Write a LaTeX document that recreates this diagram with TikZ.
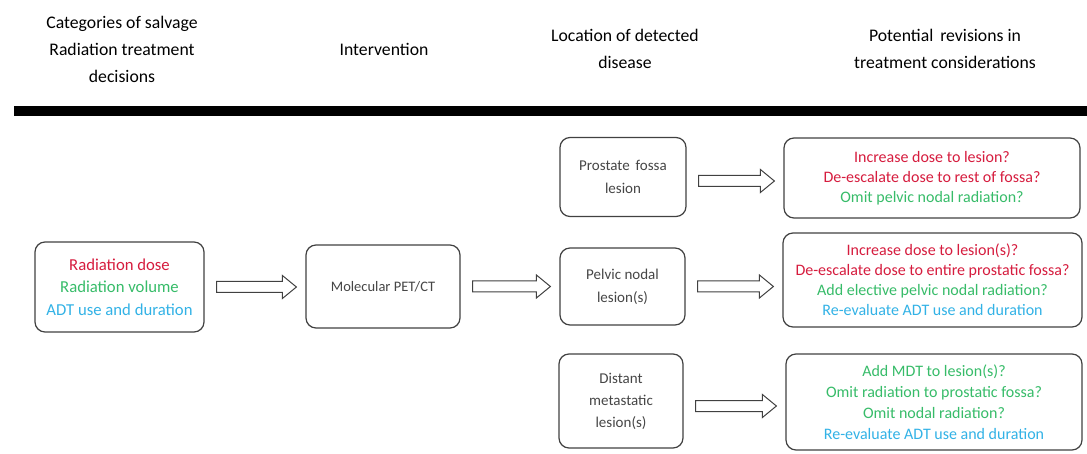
\documentclass[tikz,border=0pt]{standalone}
\usepackage{fontspec}
\setmainfont{Carlito}
\usetikzlibrary{calc}
\definecolor{tred}{RGB}{214,28,62}
\definecolor{tgreen}{RGB}{55,188,105}
\definecolor{tcyan}{RGB}{50,178,230}
\definecolor{tgray}{RGB}{70,70,70}
\definecolor{edgegray}{RGB}{65,65,65}
% #1: downward shift of the arrow, #2 source node, #3 target node
\newcommand\flowarrow[3][0pt]{\draw[blockarrow] let \p1=(#2.east), \p2=(#3.west), \n1={\y1-#1} in
  (\x1+12pt,\n1+5.5pt) -- (\x2-23pt,\n1+5.5pt) -- (\x2-23pt,\n1+11.5pt) -- (\x2-9pt,\n1)
  -- (\x2-23pt,\n1-11.5pt) -- (\x2-23pt,\n1-5.5pt) -- (\x1+12pt,\n1-5.5pt) -- cycle;}
\begin{document}
\begin{tikzpicture}[x=1pt,y=-1pt,
  box/.style={draw=edgegray, line width=1.2pt, rounded corners=10pt, fill=white,
    inner sep=0pt, align=center},
  hdr/.style={align=center, font=\fontsize{17.7}{27}\selectfont, text=black},
  graytext/.style={text=tgray, font=\fontsize{15}{23}\selectfont},
  revtext/.style={font=\fontsize{16}{20}\selectfont},
  blockarrow/.style={draw=edgegray, line width=1pt, fill=white, line join=miter}]
\useasboundingbox (0,0) rectangle (1087,454);
\fill[white] (0,0) rectangle (1087,454);

% headers
\node[hdr] (h1) at (122,49) {Categories of salvage\\Radiation treatment\\decisions};
\node[hdr] (h2) at (384,49) {Intervention};
\node[hdr] (h3) at (625,49) {Location of detected\\disease};
\node[hdr] (h4) at (945,49) {Potential\, revisions in\\treatment considerations};
\draw[line width=10pt, black] (14,111) coordinate (rl) -- (1087,111) coordinate (rr);

% boxes
\node[box, minimum width=169pt, minimum height=90pt,
  font=\fontsize{16.7}{22.5}\selectfont] (cat) at (119.5,287)
  {\textcolor{tred}{Radiation dose}\\\textcolor{tgreen}{Radiation volume}\\\textcolor{tcyan}{ADT use and duration}};
\node[box, graytext, font=\fontsize{14.5}{23}\selectfont, minimum width=154pt, minimum height=83pt] (mol) at (383,286.5) {Molecular PET/CT};
\node[box, graytext, minimum width=126pt, minimum height=79pt] (pros) at (623,177) {Prostate\, fossa\\lesion};
\node[box, graytext, minimum width=125pt, minimum height=77pt] (pelv) at (622.5,286.5) {Pelvic nodal\\lesion(s)};
\node[box, graytext, minimum width=124pt, minimum height=94pt,
  font=\fontsize{15}{22}\selectfont] (dist) at (621,401) {Distant\\metastatic\\lesion(s)};

\node[box, revtext, minimum width=296pt, minimum height=80pt] (r1) at (932,178)
  {\textcolor{tred}{Increase dose to lesion?}\\\textcolor{tred}{De-escalate dose to rest of fossa?}\\\textcolor{tgreen}{Omit pelvic nodal radiation?}};
\node[box, revtext, minimum width=299pt, minimum height=94pt] (r2) at (932.5,280)
  {\textcolor{tred}{Increase dose to lesion(s)?}\\\textcolor{tred}{De-escalate dose to entire prostatic fossa?}\\\textcolor{tgreen}{Add elective pelvic nodal radiation?}\\\textcolor{tcyan}{Re-evaluate ADT use and duration}};
\node[box, revtext, minimum width=296pt, minimum height=96pt,
  font=\fontsize{16}{21}\selectfont] (r3) at (934,402)
  {\textcolor{tgreen}{Add MDT to lesion(s)?}\\\textcolor{tgreen}{Omit radiation to prostatic fossa?}\\\textcolor{tgreen}{Omit nodal radiation?}\\\textcolor{tcyan}{Re-evaluate ADT use and duration}};

% arrows
\flowarrow{cat}{mol}
\flowarrow{mol}{pelv}
\flowarrow[4pt]{pros}{r1}
\flowarrow{pelv}{r2}
\flowarrow[5pt]{dist}{r3}
\end{tikzpicture}
\end{document}
